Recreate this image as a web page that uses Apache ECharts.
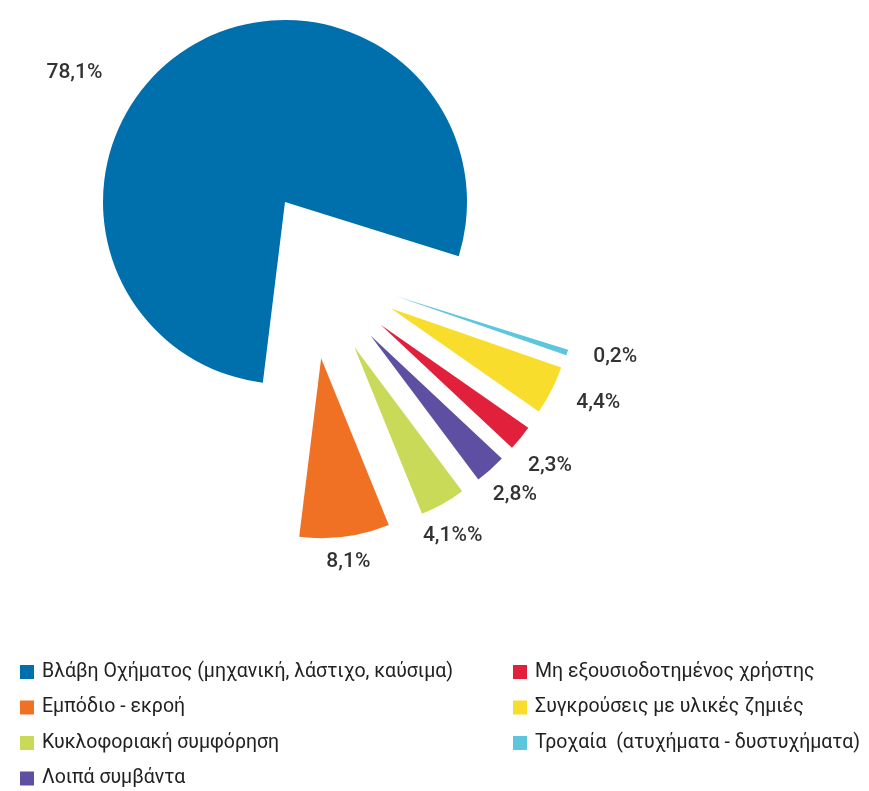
<!DOCTYPE html>
<html>
<head>
<meta charset="utf-8">
<script src="https://cdn.jsdelivr.net/npm/echarts@6/dist/echarts.min.js"></script>
<style>
html,body{margin:0;padding:0;background:#fff;}
#main{width:869px;height:791px;}
</style>
</head>
<body>
<div id="main"></div>
<script>
// ---- data (pie order, clockwise) ----
const CATEGORIES = [
  'Βλάβη Οχήματος (μηχανική, λάστιχο, καύσιμα)',
  'Τροχαία  (ατυχήματα - δυστυχήματα)',
  'Συγκρούσεις με υλικές ζημιές',
  'Μη εξουσιοδοτημένος χρήστης',
  'Λοιπά συμβάντα',
  'Κυκλοφοριακή συμφόρηση',
  'Εμπόδιο - εκροή'
];
const VALUES = [78.1, 0.2, 4.4, 2.3, 2.8, 4.1, 8.1];
const VALUE_LABELS = ['78,1%', '0,2%', '4,4%', '2,3%', '2,8%', '4,1%%', '8,1%'];
const LEGEND_LEFT = [
  'Βλάβη Οχήματος (μηχανική, λάστιχο, καύσιμα)',
  'Εμπόδιο - εκροή',
  'Κυκλοφοριακή συμφόρηση',
  'Λοιπά συμβάντα'
];
const LEGEND_RIGHT = [
  'Μη εξουσιοδοτημένος χρήστης',
  'Συγκρούσεις με υλικές ζημιές',
  'Τροχαία  (ατυχήματα - δυστυχήματα)'
];

// ---- styles ----
const COLORS = ['#0070AD', '#5BC6DD', '#F8DD2C', '#E1203B', '#5E4FA2', '#C8DA57', '#F07123'];
const START_ANGLE = 263;
const BASE_CENTER = [309, 267];
const MAIN_CENTER = [285, 202];
const MAIN_RADIUS = 182;
const SLICE_RADIUS = 180;
const EXPLODE = 92;
const MIN_ANGLE = 1.8;
const LABEL_TWEAKS = [
  {dx: -68, dy: 40},
  {dx: 2, dy: -2},
  {dx: 2, dy: 3},
  {dx: -13, dy: 15},
  {dx: -16, dy: 10},
  {dx: -5, dy: 15, align: 'center'},
  {dx: -4, dy: 5, align: 'center'}
];
const FONT = 'Roboto, "Noto Sans", sans-serif';

const total = VALUES.reduce((a, b) => a + b, 0);
function midAngle(i) {
  let cum = 0;
  for (let k = 0; k < i; k++) cum += VALUES[k];
  const deg = START_ANGLE - 360 * (cum + VALUES[i] / 2) / total;
  return deg * Math.PI / 180;
}

function sliceSeries(i) {
  let center, radius;
  if (i === 0) {
    center = MAIN_CENTER;
    radius = MAIN_RADIUS;
  } else {
    const a = midAngle(i);
    center = [BASE_CENTER[0] + EXPLODE * Math.cos(a), BASE_CENTER[1] - EXPLODE * Math.sin(a)];
    radius = SLICE_RADIUS;
  }
  const tw = LABEL_TWEAKS[i];
  const layout = {dx: tw.dx, dy: tw.dy};
  if (tw.align) layout.align = tw.align;
  return {
    type: 'pie',
    center: center,
    radius: radius,
    startAngle: START_ANGLE,
    clockwise: true,
    minAngle: MIN_ANGLE,
    avoidLabelOverlap: false,
    silent: true,
    animation: false,
    padAngle: 0,
    itemStyle: {borderWidth: 0, borderRadius: 0},
    emphasis: {disabled: true},
    label: {show: false},
    labelLine: {show: false, length: 20, length2: 0},
    labelLayout: layout,
    data: VALUES.map((v, j) => ({
      name: CATEGORIES[j],
      value: v,
      itemStyle: {color: j === i ? COLORS[j] : 'rgba(0,0,0,0)', borderWidth: 0},
      label: j === i ? {
        show: true, position: 'outside', formatter: VALUE_LABELS[j],
        fontSize: 21, color: '#333', fontFamily: FONT, fontWeight: 500
      } : {show: false}
    }))
  };
}

function legendData(names) {
  return names.map(n => ({name: n, itemStyle: {color: COLORS[CATEGORIES.indexOf(n)], borderWidth: 0}}));
}
const legendBase = {
  orient: 'vertical', top: 662, height: 160, padding: 0, itemWidth: 14, itemHeight: 14, itemGap: 15.5,
  icon: 'rect', selectedMode: false,
  textStyle: {fontSize: 19.5, lineHeight: 18, color: '#222', fontFamily: FONT, padding: [0, 0, 0, 3]}
};

const chart = echarts.init(document.getElementById('main'), null, {renderer: 'canvas'});
chart.setOption({
  backgroundColor: '#ffffff',
  animation: false,
  legend: [
    Object.assign({}, legendBase, {left: 20, data: legendData(LEGEND_LEFT)}),
    Object.assign({}, legendBase, {left: 513, data: legendData(LEGEND_RIGHT)})
  ],
  series: VALUES.map((v, i) => sliceSeries(i))
});
</script>
</body>
</html>
